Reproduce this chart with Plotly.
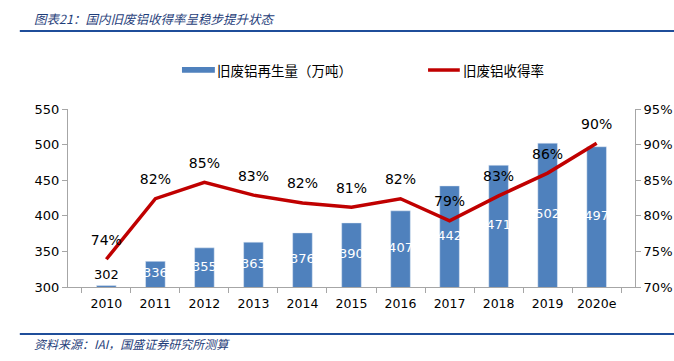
import plotly.graph_objects as go

years = ["2010", "2011", "2012", "2013", "2014", "2015", "2016", "2017", "2018", "2019", "2020e"]
output = [302, 336, 355, 363, 376, 390, 407, 442, 471, 502, 497]
rate = [73.9, 82.4, 84.7, 82.9, 81.8, 81.2, 82.4, 79.3, 82.8, 86.0, 90.2]
rate_labels = ["74%", "82%", "85%", "83%", "82%", "81%", "82%", "79%", "83%", "86%", "90%"]

AXIS_MIN = 300
small = [v - AXIS_MIN < 20 for v in output]
label_y = [v + 14 if s else (AXIS_MIN + v) / 2 for v, s in zip(output, small)]
label_col = ["black" if s else "white" for s in small]

fig = go.Figure()
fig.add_trace(go.Bar(
    x=years, y=output, name="旧废铝再生量（万吨）",
    marker_color="#4F81BD", width=0.4, showlegend=False,
))
fig.add_trace(go.Scatter(
    x=years, y=label_y, mode="text", text=[str(v) for v in output],
    textposition="middle center",
    textfont=dict(family="DejaVu Sans", size=13, color=label_col),
    showlegend=False, hoverinfo="skip", cliponaxis=False,
))
fig.add_trace(go.Scatter(
    x=years, y=[r / 100 for r in rate], name="旧废铝收得率", yaxis="y2",
    mode="lines+markers+text", line=dict(color="#C00000", width=3.5),
    marker=dict(size=16, color="rgba(0,0,0,0)"),
    text=rate_labels, textposition="top center",
    textfont=dict(family="DejaVu Sans", size=14, color="black"),
    cliponaxis=False, showlegend=False,
))

axis_col = "#A6A6A6"
blue = "#1F4E9A"
fig.update_layout(
    width=674, height=361,
    margin=dict(l=68, r=39, t=109, b=74, autoexpand=False),
    plot_bgcolor="white", paper_bgcolor="white",
    font=dict(family="DejaVu Sans", size=13, color="black"),
    showlegend=False,
    bargap=0.6,
    xaxis=dict(type="category", showline=True, linecolor=axis_col, ticks="outside",
               tickson="boundaries", tickcolor=axis_col, ticklen=5,
               ticklabelstandoff=5,
               tickfont=dict(size=12.5), showgrid=False, automargin=False),
    yaxis=dict(range=[AXIS_MIN, 550], dtick=50, showline=True, linecolor=axis_col,
               ticks="outside", tickcolor=axis_col, ticklen=5, showgrid=False,
               zeroline=False, tickfont=dict(size=13), automargin=False),
    yaxis2=dict(range=[0.70, 0.95], dtick=0.05, tickformat=".0%", overlaying="y",
                side="right", showline=True, linecolor=axis_col, ticks="outside",
                tickcolor=axis_col, ticklen=5, showgrid=False, zeroline=False,
                tickfont=dict(size=13), automargin=False),
    shapes=[
        dict(type="line", xref="paper", yref="paper", x0=-0.085, x1=1.07,
             y0=1.438, y1=1.438, line=dict(color=blue, width=2)),
        dict(type="line", xref="paper", yref="paper", x0=-0.085, x1=1.07,
             y0=-0.264, y1=-0.264, line=dict(color=blue, width=2)),
        dict(type="rect", xref="paper", yref="paper", x0=0.201, x1=0.259,
             y0=1.203, y1=1.236, fillcolor="#4F81BD", line=dict(width=0)),
        dict(type="line", xref="paper", yref="paper", x0=0.635, x1=0.691,
             y0=1.219, y1=1.219, line=dict(color="#C00000", width=3.5)),
    ],
    annotations=[
        dict(text="<i>图表21：国内旧废铝收得率呈稳步提升状态</i>", xref="paper", yref="paper",
             x=-0.064, y=1.51, xanchor="left", yanchor="middle", showarrow=False,
             font=dict(family="Noto Sans CJK SC", size=12.5, color="#1F3E7A")),
        dict(text="<i>资料来源：IAI，国盛证券研究所测算</i>", xref="paper", yref="paper",
             x=-0.064, y=-0.315, xanchor="left", yanchor="middle", showarrow=False,
             font=dict(family="Noto Sans CJK SC", size=12, color="#1F3E7A")),
        dict(text="旧废铝再生量（万吨）", xref="paper", yref="paper",
             x=0.26, y=1.219, xanchor="left", yanchor="middle", showarrow=False,
             font=dict(family="Noto Sans CJK SC", size=13.5, color="black")),
        dict(text="旧废铝收得率", xref="paper", yref="paper",
             x=0.693, y=1.219, xanchor="left", yanchor="middle", showarrow=False,
             font=dict(family="Noto Sans CJK SC", size=13.5, color="black")),
    ],
)

fig.write_html("out.html", config={"displayModeBar": False},
               post_script="document.body.style.margin='0';")
